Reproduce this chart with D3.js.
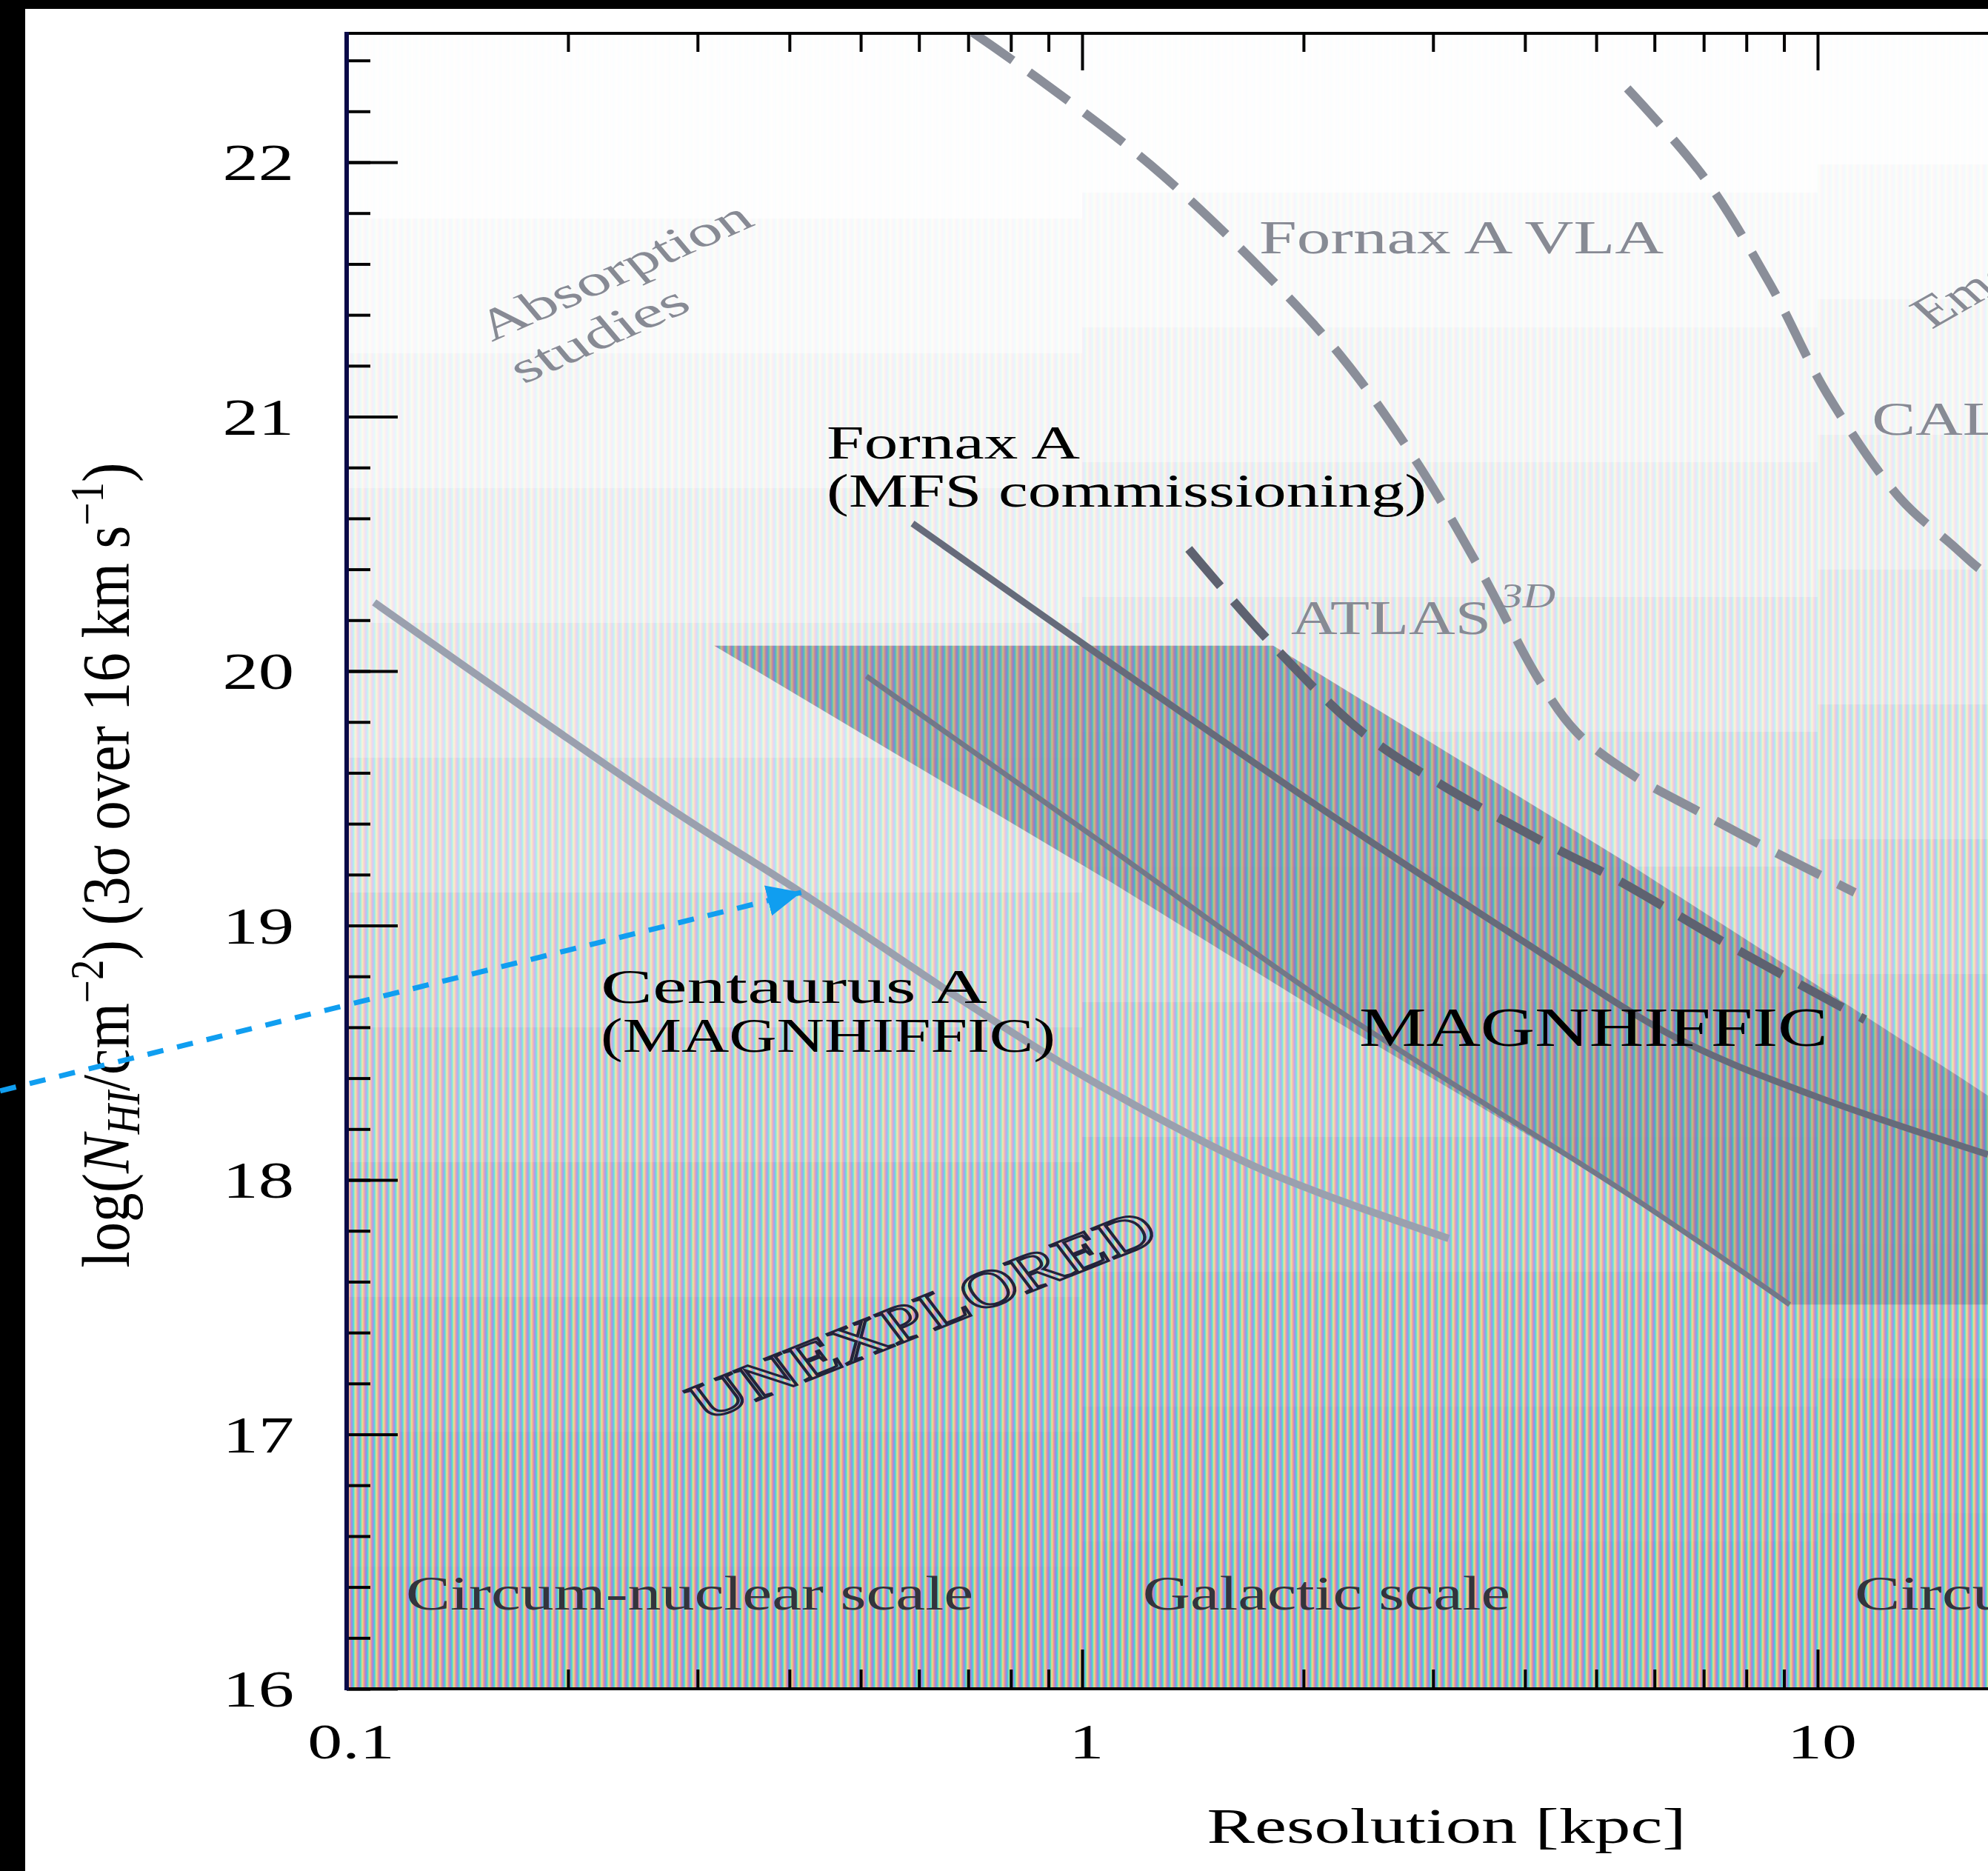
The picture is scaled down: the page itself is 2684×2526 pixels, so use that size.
<!DOCTYPE html>
<html>
<head>
<meta charset="utf-8">
<title>HI column density sensitivity vs resolution</title>
<script src="https://cdn.jsdelivr.net/npm/d3@7/dist/d3.min.js"></script>
<style>
  html, body { margin: 0; padding: 0; background: #fff; }
  svg { display: block; }
  text { font-family: "Liberation Serif", "DejaVu Serif", serif; }
</style>
</head>
<body>
<svg id="chart"></svg>
<script>
// --------------------
//  data
// --------------------

// ticks
const xMajorTicks = [0.1, 1, 10, 100];
const xMinorTicks = [0.2, 0.3, 0.4, 0.5, 0.6, 0.7, 0.8, 0.9, 2, 3, 4, 5, 6, 7, 8, 9, 20, 30];
const xLabelValues = [0.1, 1, 10];
const xLabelText = ["0.1", "1", "10"];
const yMajorTicks = [16, 17, 18, 19, 20, 21, 22];
const yMinorTicks = d3.range(16, 22.41, 0.2);

// grey background (column density map rendered in steps)
const shadeColumns = [0.1, 1, 10, 100];
const shadeShift = [0, 0.1, 0.21];
const shadeEdges = [22.8, 21.78, 21.25, 20.72, 20.19, 19.66, 19.13, 18.6, 18.07, 17.54, 17.01, 16.48, 15.7];
const shadeLevels = [0.02, 0.07, 0.13, 0.21, 0.31, 0.43, 0.56, 0.68, 0.8, 0.9, 0.96, 1];

// MAGNHIFFIC sensitivity band  [kpc, log N_HI]
const magnTop = [[0.316, 20.1], [1.819, 20.1], [5.55, 19.24], [15.68, 18.40], [20, 18.2]];
const magnBottom = [[0.316, 20.1], [1.095, 19.17], [2.194, 18.63], [5.55, 17.94], [9.16, 17.51], [20, 17.51]];

// solid curves
const centaurusA = [[0.109, 20.27], [0.272, 19.47], [0.415, 19.13], [0.692, 18.70], [1.03, 18.39], [1.757, 18.04], [3.15, 17.77]];
const fornaxMFS = [[0.588, 20.58], [1.095, 20.03], [2.114, 19.46], [3.92, 18.95], [6.41, 18.56], [9.91, 18.33], [17.04, 18.10]];
const magnInner = [[0.509, 19.98], [1.095, 19.30], [2.194, 18.68], [5.55, 17.94], [9.16, 17.51]];

// dashed curves
const fornaxVLA = [[0.71, 22.51], [0.87, 22.33], [1.238, 21.99], [1.697, 21.62], [2.246, 21.24], [2.852, 20.82],
  [3.474, 20.40], [4.17, 19.97], [4.70, 19.76], [5.61, 19.59], [6.87, 19.45], [8.46, 19.31], [11.23, 19.13]];
const atlas3D = [[1.396, 20.48], [1.819, 20.10], [2.403, 19.76], [3.051, 19.56], [4.29, 19.32], [5.334, 19.18], [7.82, 18.90], [11.6, 18.63]];
const califa = [[5.51, 22.29], [7.01, 21.94], [8.62, 21.52], [10.30, 21.09], [12.94, 20.68], [15.18, 20.50], [17.04, 20.38], [20, 20.3]];

// arrow added on top of the figure
const arrowFrom = [0.0338, 18.35];
const arrowTo = [0.415, 19.13];

// --------------------
//  setup
// --------------------
const W = 2684, H = 2526;
const SX = 1.38; // the source figure is stretched horizontally

const svg = d3.select("#chart").attr("width", W).attr("height", H).attr("viewBox", [0, 0, W, H]);

const x = d3.scaleLog().domain([0.1, 100]).range([468, 468 + 3 * 993]);
const y = d3.scaleLinear().domain([16, 22]).range([2280, 219]);
const plotLeft = 468, plotTop = 45, plotBottom = 2280;

svg.append("rect").attr("width", W).attr("height", H).attr("fill", "#fff");
svg.append("rect").attr("width", 34).attr("height", H).attr("fill", "#000");
svg.append("rect").attr("width", W).attr("height", 12).attr("fill", "#000");

const defs = svg.append("defs");
defs.append("clipPath").attr("id", "plotClip").append("rect")
  .attr("x", plotLeft).attr("y", plotTop).attr("width", W - plotLeft).attr("height", plotBottom - plotTop);

// the moire stripes of the scanned figure
const grad = defs.append("linearGradient").attr("id", "stripeGrad");
[["0%", "#9482ee"], ["25%", "#42dcd2"], ["50%", "#eee280"], ["75%", "#ee9094"], ["100%", "#9482ee"]]
  .forEach(([o, c]) => grad.append("stop").attr("offset", o).attr("stop-color", c));
const pat = defs.append("pattern").attr("id", "stripes").attr("patternUnits", "userSpaceOnUse")
  .attr("width", 9.5).attr("height", 40);
pat.append("rect").attr("width", 9.5).attr("height", 40).attr("fill", "url(#stripeGrad)");

// arrow head
defs.append("marker").attr("id", "blueHead").attr("markerUnits", "userSpaceOnUse")
  .attr("markerWidth", 50).attr("markerHeight", 44).attr("refX", 46).attr("refY", 21)
  .attr("orient", "auto")
  .append("path").attr("d", "M0,0 L46,21 L0,42 Z").attr("fill", "#109ef0");

const plot = svg.append("g").attr("clip-path", "url(#plotClip)");

// --------------------
//  background
// --------------------
const cells = [];
shadeColumns.slice(0, -1).forEach((c0, i) => {
  shadeLevels.forEach((lv, j) => {
    cells.push({ x0: c0, x1: shadeColumns[i + 1], top: shadeEdges[j] + shadeShift[i], bot: shadeEdges[j + 1] + shadeShift[i], lv });
  });
});
plot.selectAll("rect.cell").data(cells).join("rect")
  .attr("class", "cell")
  .attr("x", d => Math.round(x(d.x0)))
  .attr("width", d => Math.round(x(d.x1)) - Math.round(x(d.x0)))
  .attr("y", d => Math.round(y(d.top)))
  .attr("height", d => Math.round(y(d.bot)) - Math.round(y(d.top)))
  .attr("fill", "url(#stripes)")
  .attr("opacity", d => d.lv);

// MAGNHIFFIC band
const band = magnTop.concat(magnBottom.slice().reverse());
const poly = d3.line().x(d => x(d[0])).y(d => y(d[1]));
plot.append("path").attr("d", poly(band) + "Z").attr("fill", "url(#stripes)").attr("opacity", 0.85);
plot.append("path").attr("d", poly(band) + "Z").attr("fill", "#34405e").attr("opacity", 0.2);

// --------------------
//  curves
// --------------------
const curve = d3.line().x(d => x(d[0])).y(d => y(d[1])).curve(d3.curveCatmullRom.alpha(0.5));

const solids = [
  { pts: centaurusA, color: "#9aa0ae", w: 10 },
  { pts: magnInner, color: "#727888", w: 7 },
  { pts: fornaxMFS, color: "#666b7a", w: 9 }
];
plot.selectAll("path.solid").data(solids).join("path")
  .attr("class", "solid")
  .attr("d", d => curve(d.pts))
  .attr("fill", "none")
  .attr("stroke", d => d.color)
  .attr("stroke-width", d => d.w);

const dashed = [
  { pts: fornaxVLA, color: "#8a8e99" },
  { pts: atlas3D, color: "#5e6270" },
  { pts: califa, color: "#8a8e99" }
];
plot.selectAll("path.dashed").data(dashed).join("path")
  .attr("class", "dashed")
  .attr("d", d => curve(d.pts))
  .attr("fill", "none")
  .attr("stroke", d => d.color)
  .attr("stroke-width", 12)
  .attr("stroke-dasharray", "66 27");

// --------------------
//  axes
// --------------------
function styleAxis(g) {
  g.select(".domain").remove();
  g.selectAll("line").attr("stroke", "#000").attr("stroke-width", 4);
}
svg.append("g").attr("transform", `translate(0,${plotBottom})`)
  .call(d3.axisTop(x).tickValues(xMajorTicks).tickSize(53).tickFormat("")).call(styleAxis);
svg.append("g").attr("transform", `translate(0,${plotBottom})`)
  .call(d3.axisTop(x).tickValues(xMinorTicks).tickSize(26).tickFormat("")).call(styleAxis);
svg.append("g").attr("transform", `translate(0,${plotTop})`)
  .call(d3.axisBottom(x).tickValues(xMajorTicks).tickSize(50).tickFormat("")).call(styleAxis);
svg.append("g").attr("transform", `translate(0,${plotTop})`)
  .call(d3.axisBottom(x).tickValues(xMinorTicks).tickSize(25).tickFormat("")).call(styleAxis);
svg.append("g").attr("transform", `translate(${plotLeft},0)`)
  .call(d3.axisRight(y).tickValues(yMajorTicks).tickSize(69).tickFormat("")).call(styleAxis);
svg.append("g").attr("transform", `translate(${plotLeft},0)`)
  .call(d3.axisRight(y).tickValues(yMinorTicks).tickSize(32).tickFormat("")).call(styleAxis);

// frame lines
svg.append("line").attr("x1", plotLeft).attr("x2", W).attr("y1", plotTop).attr("y2", plotTop)
  .attr("stroke", "#000").attr("stroke-width", 4);
svg.append("line").attr("x1", plotLeft).attr("x2", W).attr("y1", plotBottom).attr("y2", plotBottom)
  .attr("stroke", "#000").attr("stroke-width", 4);
svg.append("line").attr("x1", plotLeft).attr("x2", plotLeft).attr("y1", plotTop - 2).attr("y2", plotBottom + 2)
  .attr("stroke", "#0a0a48").attr("stroke-width", 6);

// tick labels
svg.selectAll("text.ylab").data(yMajorTicks).join("text")
  .attr("class", "ylab")
  .attr("transform", d => `translate(397,${y(d) + 24}) scale(${SX},1)`)
  .attr("text-anchor", "end").attr("font-size", 70).attr("fill", "#000")
  .text(d => d);
svg.selectAll("text.xlab").data(xLabelValues).join("text")
  .attr("class", "xlab")
  .attr("transform", d => `translate(${x(d) + 6},2374) scale(${SX},1)`)
  .attr("text-anchor", "middle").attr("font-size", 68).attr("fill", "#000")
  .text((d, i) => xLabelText[i]);

// axis titles
svg.append("text")
  .attr("transform", `translate(1953,2488) scale(${SX},1)`)
  .attr("text-anchor", "middle").attr("font-size", 68).attr("fill", "#000")
  .attr("textLength", 647 / SX).attr("lengthAdjust", "spacingAndGlyphs")
  .text("Resolution [kpc]");

const yt = svg.append("text")
  .attr("transform", `translate(174,1168) scale(${SX},1) rotate(-90)`)
  .attr("text-anchor", "middle").attr("font-size", 66).attr("fill", "#000")
  .attr("textLength", 1087).attr("lengthAdjust", "spacingAndGlyphs");
yt.append("tspan").text("log(");
yt.append("tspan").attr("font-style", "italic").text("N");
yt.append("tspan").attr("font-style", "italic").attr("font-size", 46).attr("baseline-shift", "-10").text("HI");
yt.append("tspan").text("/cm");
yt.append("tspan").attr("font-size", 46).attr("baseline-shift", "26").text("\u22122");
yt.append("tspan").text(") (3\u03c3 over 16 km s");
yt.append("tspan").attr("font-size", 46).attr("baseline-shift", "26").text("\u22121");
yt.append("tspan").text(")");

// --------------------
//  annotations
// --------------------
const grey = "#878a94", black = "#000", scaleGrey = "#33343c";
const annotations = [
  { text: "Absorption", at: [0.1575, 21.293], angle: -31.5, len: 304, size: 58, color: grey },
  { text: "studies", at: [0.1741, 21.127], angle: -31.5, len: 195, size: 58, color: grey },
  { text: "Fornax A VLA", at: [1.741, 21.642], len: 546 / SX, size: 63, color: grey },
  { text: "Fornax A", at: [0.4494, 20.835], len: 342 / SX, size: 63, color: black },
  { text: "(MFS commissioning)", at: [0.4494, 20.646], len: 810 / SX, size: 63, color: black },
  { text: "ATLAS", at: [1.923, 20.146], len: 270 / SX, size: 65, color: grey },
  { text: "3D", at: [3.698, 20.25], len: 75 / SX, size: 46, color: grey, italic: true },
  { text: "Centaurus A", at: [0.2215, 18.696], len: 522 / SX, size: 65, color: black },
  { text: "(MAGNHIFFIC)", at: [0.2215, 18.504], len: 614 / SX, size: 65, color: black },
  { text: "MAGNHIFFIC", at: [2.380, 18.527], len: 633 / SX, size: 74, color: black },
  { text: "Circum-nuclear scale", at: [0.1204, 16.311], len: 766 / SX, size: 66, color: scaleGrey },
  { text: "Galactic scale", at: [1.209, 16.311], len: 496 / SX, size: 66, color: scaleGrey },
  { text: "Circum-galactic scale", at: [11.23, 16.311], len: 800 / SX, size: 66, color: scaleGrey },
  { text: "CALIFA", at: [11.85, 20.93], size: 64, color: grey },
  { text: "Emonts", at: [14.29, 21.342], angle: -38, size: 60, color: grey }
];
const notes = svg.append("g").attr("clip-path", "url(#plotClip)");
annotations.forEach(d => {
  const t = notes.append("text")
    .attr("transform", `translate(${x(d.at[0])},${y(d.at[1])}) scale(${SX},1) rotate(${d.angle || 0})`)
    .attr("font-size", d.size)
    .attr("fill", d.color)
    .attr("font-style", d.italic ? "italic" : null)
    .text(d.text);
  if (d.len) t.attr("textLength", d.len).attr("lengthAdjust", "spacingAndGlyphs");
});

// outlined label
notes.append("text")
  .attr("transform", `translate(${x(0.3072)},${y(17.051)}) scale(${SX},1) rotate(-28.8)`)
  .attr("font-size", 70).attr("fill", "none").attr("stroke", "#23233a").attr("stroke-width", 3)
  .attr("textLength", 510).attr("lengthAdjust", "spacingAndGlyphs")
  .text("UNEXPLORED");

// blue dashed arrow
svg.append("line")
  .attr("x1", x(arrowFrom[0])).attr("y1", y(arrowFrom[1]))
  .attr("x2", x(arrowTo[0])).attr("y2", y(arrowTo[1]))
  .attr("stroke", "#109ef0").attr("stroke-width", 7).attr("stroke-dasharray", "22 19")
  .attr("marker-end", "url(#blueHead)");
</script>
</body>
</html>
